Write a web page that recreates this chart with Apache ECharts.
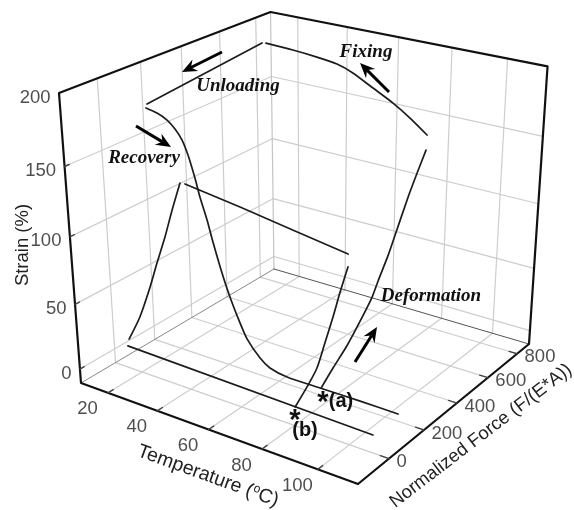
<!DOCTYPE html><html><head><meta charset="utf-8"><style>html,body{margin:0;background:#fff}#c{width:574px;height:510px}</style>
<script src="https://cdn.jsdelivr.net/npm/echarts@6/dist/echarts.min.js"></script></head><body><div id="c"></div>
<script>
// Tick labels
const tempTicks=[20,40,60,80,100];
const forceTicks=[0,200,400,600,800];
const strainTicks=[0,50,100,150,200];
// Cycle curves: temperature (C), normalized force, strain (%)
const recoveryTemp=[14.3,18.6,22.5,25.5,28.1,30.2,32.6,34.3,36.8,38.8,41.4,43.8,46.1,48.7,51.3,56.3,60.1,66.7,79.2,94.0,107.6];
const recoveryForce=150;
const recoveryStrain=[172.8,171.1,167.9,162.9,156.3,146.6,131.3,118.4,102.9,88,70.5,56,44,32,21.5,9.7,4.5,1.9,1.9,2.1,1.9];
const riseTemp=[15.2,20.3,25.2,28.5,32.2,35.5,39.0];
const riseStrain=[12.1,32.6,58.5,78.4,99.6,120.8,141.6];
const plateauTemp=[40.9,61.2,80.7,98.9];
const plateauStrain=[141.9,136.3,130.2,124.6];
const dropTemp=[98.9,96.3,93.9,91.1,88.3,84.7,80.3];
const dropStrain=[115.9,97.2,78.3,58.0,38.0,21.5,3.3];
const baseTemp=[14.5,108.2];
const baseStrain=[6.2,2.4];
const lowForce=0;
const deformTemp=79.6;
const deformForce=[150,216,295,369,438,472,530,569,644,696,748];
const deformStrain=[2.1,11.1,21,33,45.5,55,70,82,105.3,119.6,133.1];
const fixTemp=[79.8,73.3,66.8,59.1,51.3,45.1,37.2,27.6,16.6];
const fixForce=748;
const fixStrain=[144.4,154.0,162.2,170.0,177.9,182.0,184.0,185.5,186.5];
const unloadTemp=16.6;
const unloadForce=[726,129];
const unloadStrain=[187.8,177.9];

// Axis box limits and perspective projection of the box
const lo=[8.7,-167,-11],hi=[113.9,885,200];
const A=[81,383],B=[358,484],C=[529,344],G=[274,269],D=[59,93];
const dx1=B[0]-C[0],dx2=G[0]-C[0],sx=A[0]-B[0]+C[0]-G[0],dy1=B[1]-C[1],dy2=G[1]-C[1],sy=A[1]-B[1]+C[1]-G[1];
const dn=dx1*dy2-dx2*dy1,pg=(sx*dy2-dx2*sy)/dn,ph=(dx1*sy-sx*dy1)/dn,pc=-0.085;
const pa=[B[0]*(1+pg)-A[0],G[0]*(1+ph)-A[0],D[0]*(1+pc)-A[0]];
const pb=[B[1]*(1+pg)-A[1],G[1]*(1+ph)-A[1],D[1]*(1+pc)-A[1]];
function proj(T,F,S){
  const u=(T-lo[0])/(hi[0]-lo[0]),v=(F-lo[1])/(hi[1]-lo[1]),w=(S-lo[2])/(hi[2]-lo[2]);
  const d=1+pg*u+ph*v+pc*w;
  return [(A[0]+pa[0]*u+pa[1]*v+pa[2]*w)/d,(A[1]+pb[0]*u+pb[1]*v+pb[2]*w)/d];
}
const series=[];
function line(pts,color,width,z,smooth){
  series.push({type:'line',data:pts.map(p=>proj(p[0],p[1],p[2])),symbol:'none',silent:true,clip:false,z:z,smooth:smooth||false,
    lineStyle:{color:color,width:width,cap:'round',join:'round'}});
}
const [T0,F0,S0]=lo,[T1,F1,S1]=hi;
const GRID='#cdcdcd';
// walls and floor grid
tempTicks.forEach(t=>{line([[t,F1,S0],[t,F1,S1]],GRID,1.2,1);line([[t,F0,S0],[t,F1,S0]],GRID,1.2,1);});
forceTicks.forEach(f=>{line([[T0,f,S0],[T0,f,S1]],GRID,1.2,1);line([[T0,f,S0],[T1,f,S0]],GRID,1.2,1);});
strainTicks.slice(0,4).forEach(s=>{line([[T0,F0,s],[T0,F1,s]],GRID,1.2,1);line([[T0,F1,s],[T1,F1,s]],GRID,1.2,1);});
// back edges
line([[T0,F1,S0],[T0,F1,S1]],'#c4c4c4',1.2,2);
line([[T0,F0,S0],[T0,F1,S0]],'#888',1,2);
line([[T0,F1,S0],[T1,F1,S0]],'#555',1,2);
// box outline
const EDGE='#111';
line([[T0,F0,S0],[T1,F0,S0],[T1,F1,S0],[T1,F1,S1],[T0,F1,S1],[T0,F0,S1],[T0,F0,S0]],EDGE,2.2,3);
// tick marks
tempTicks.forEach(t=>line([[t,F0,S0],[t,F0+25,S0]],'#444',1.4,3));
forceTicks.forEach(f=>line([[T1,f,S0],[T1-3,f,S0]],'#444',1.4,3));
strainTicks.slice(0,4).forEach(s=>line([[T0,F0,s],[T0,F0+20,s]],'#444',1.4,3));
// data curves
const CURVE='#1c1c1c',SM=0.25;
line(recoveryTemp.map((t,i)=>[t,recoveryForce,recoveryStrain[i]]),CURVE,1.7,5,SM);
line(riseTemp.map((t,i)=>[t,lowForce,riseStrain[i]]),CURVE,1.7,5,SM);
line(plateauTemp.map((t,i)=>[t,lowForce,plateauStrain[i]]),CURVE,1.7,5);
line(dropTemp.map((t,i)=>[t,lowForce,dropStrain[i]]),CURVE,1.7,5,SM);
line(baseTemp.map((t,i)=>[t,lowForce,baseStrain[i]]),CURVE,1.7,5);
line(deformForce.map((f,i)=>[deformTemp,f,deformStrain[i]]),CURVE,1.7,5,SM);
line(fixTemp.map((t,i)=>[t,fixForce,fixStrain[i]]),CURVE,1.7,5,SM);
line(unloadForce.map((f,i)=>[unloadTemp,f,unloadStrain[i]]),CURVE,1.7,5);
// tick labels
const LABEL='#222',FONT='"Liberation Sans",Arial,sans-serif';
function labels(ticks,pos,dx,dy,align){
  series.push({type:'scatter',symbolSize:1,itemStyle:{color:'transparent'},silent:true,z:6,clip:false,
    data:ticks.map(t=>({value:pos(t),label:{formatter:String(t)}})),
    label:{show:true,position:[dx,dy],align:align,verticalAlign:'middle',fontFamily:FONT,fontSize:18.5,color:LABEL}});
}
labels(tempTicks,t=>proj(t,F0,S0),-20,17,'center');
labels(forceTicks,f=>proj(T1,f,S0),8,4,'left');
labels(strainTicks,s=>proj(T0,F0,s),-8,5,'right');

// annotations
const deg=Math.PI/180;
function txt(x,y,text,font,rot,extra){return {type:'text',x:x,y:y,rotation:(rot||0)*deg,z:20,silent:true,
  style:Object.assign({text:text,font:font,fill:'#111',align:'center',verticalAlign:'middle'},extra||{})};}
const ann='italic bold 19px "Liberation Serif",serif';
function arrow(x1,y1,x2,y2){
  const a=Math.atan2(y2-y1,x2-x1),L=15,W=6.5,N=10;
  const pt=(l,s)=>[x2-l*Math.cos(a)-s*Math.sin(a),y2-l*Math.sin(a)+s*Math.cos(a)];
  return [{type:'line',z:20,silent:true,shape:{x1:x1,y1:y1,x2:pt(N,0)[0],y2:pt(N,0)[1]},style:{stroke:'#000',lineWidth:3}},
    {type:'polygon',z:20,silent:true,shape:{points:[[x2,y2],pt(L,W),pt(N,0),pt(L,-W)]},style:{fill:'#000'}}];
}
const graphic=[
  txt(23,245,'Strain (%)','18.5px '+FONT,90,{fill:LABEL}),
  txt(208,476,'{a|Temperature (}{s|o}{a|C)}','19.5px '+FONT,-20,{rich:{a:{font:'19.5px '+FONT,fill:LABEL},s:{font:'12px '+FONT,fill:LABEL,padding:[0,0,9,0]}}}),
  txt(481,436,'Normalized Force (F/(E*A))','18.5px '+FONT,37.5,{fill:LABEL}),
  txt(238,86,'Unloading',ann),txt(144,158,'Recovery',ann),txt(366,52,'Fixing',ann),txt(431,296,'Deformation',ann),
  txt(323,403,'*','bold 29px '+FONT),txt(341,401,'(a)','bold 20px '+FONT),
  txt(295,421,'*','bold 29px '+FONT),txt(305,430,'(b)','bold 20px '+FONT),
  ...arrow(222,52,182,72),...arrow(136,126,171,147),...arrow(389,92,360,63),...arrow(355,362,377,327)
];
const chart=echarts.init(document.getElementById('c'),null,{renderer:'canvas'});
chart.setOption({animation:false,backgroundColor:'#fff',
  grid:{left:0,right:0,top:0,bottom:0},
  xAxis:{type:'value',min:0,max:574,show:false},
  yAxis:{type:'value',min:0,max:510,inverse:true,show:false},
  series:series,graphic:graphic});
</script></body></html>
